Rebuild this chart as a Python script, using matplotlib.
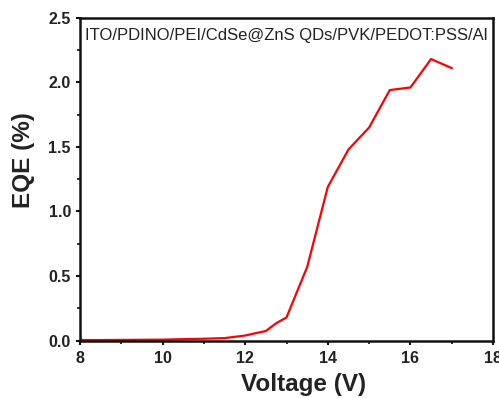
import matplotlib
matplotlib.use("Agg")
import matplotlib.pyplot as plt
from matplotlib.ticker import MultipleLocator, FormatStrFormatter

voltage = [8.0, 8.5, 9.0, 9.5, 10.0, 10.5, 11.0, 11.5, 12.0, 12.25, 12.5, 12.75,
           13.0, 13.5, 14.0, 14.5, 15.0, 15.5, 16.0, 16.5, 17.0]
eqe = [0.005, 0.005, 0.006, 0.007, 0.008, 0.012, 0.015, 0.02, 0.04, 0.058, 0.075, 0.135,
       0.18, 0.57, 1.19, 1.48, 1.65, 1.94, 1.96, 2.18, 2.11]
device_label = "ITO/PDINO/PEI/CdSe@ZnS QDs/PVK/PEDOT:PSS/Al"

plt.rcParams['font.family'] = ['Liberation Sans', 'DejaVu Sans']

fig = plt.figure(figsize=(4.99, 3.98), dpi=100)
ax = fig.add_axes([0.1603, 0.144, 0.8277, 0.8115])

ax.plot(voltage, eqe, color='#ff0000', lw=1.6)

ax.set_xlim(8, 18)
ax.set_ylim(0, 2.5)
ax.xaxis.set_major_locator(MultipleLocator(2))
ax.xaxis.set_minor_locator(MultipleLocator(1))
ax.yaxis.set_major_locator(MultipleLocator(0.5))
ax.yaxis.set_minor_locator(MultipleLocator(0.25))
ax.xaxis.set_major_formatter(FormatStrFormatter('%d'))
ax.yaxis.set_major_formatter(FormatStrFormatter('%.1f'))

for s in ax.spines.values():
    s.set_linewidth(1.8)
    s.set_color('#111111')

ax.tick_params(which='major', direction='out', length=3.0, width=1.5,
               labelsize=11.5, colors='#111111', labelcolor='#222222')
ax.tick_params(which='minor', direction='out', length=2.2, width=1.2, colors='#111111')
ax.tick_params(axis='x', which='major', pad=4.5)
ax.tick_params(axis='y', which='major', pad=3.5)
for lbl in ax.get_xticklabels() + ax.get_yticklabels():
    lbl.set_fontweight('bold')

ax.set_xlabel('Voltage (V)', fontsize=17.5, fontweight='bold', color='#222222',
              va='center', ha='center')
ax.set_ylabel('EQE (%)', fontsize=17.5, fontweight='bold', color='#222222',
              va='center', ha='center')
ax.xaxis.set_label_coords(0.542, -0.137)
ax.yaxis.set_label_coords(-0.1356, 0.559)

ax.text(0.5, 0.946, device_label, transform=ax.transAxes, ha='center', va='center',
        fontsize=12, color='#222222')

fig.savefig('out.png', dpi=100)
